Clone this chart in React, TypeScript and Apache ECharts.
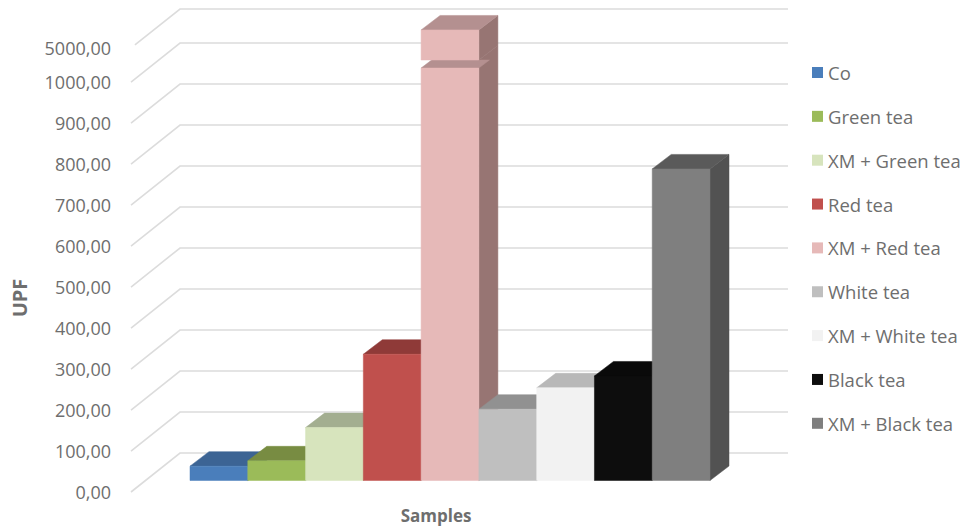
import React, { useEffect, useRef } from "react";
import * as echarts from "echarts";

// Sun protection factor per sample, drawn as pseudo-3D columns on a broken value axis.
const samples = ["Co", "Green tea", "XM + Green tea", "Red tea", "XM + Red tea", "White tea", "XM + White tea", "Black tea", "XM + Black tea"];
const upfLow = [0, 0, 0, 0, 0, 0, 0, 0, 0];
const upfHigh = [35, 48, 129, 308, 1290, 174, 226, 255, 760];
// The XM + Red tea column continues above the axis break as a second block.
const xmRedUpperBlock = [2234, 5016];
const axisTicks = [0, 100, 200, 300, 400, 500, 600, 700, 800, 900, 1000, 5000];

const frontColors = ["#4a7ebb", "#9bbb59", "#d7e4bd", "#c0504d", "#e6b9b8", "#bfbfbf", "#f2f2f2", "#0d0d0d", "#7f7f7f"];
const topColors = ["#3c6494", "#788c42", "#a3ae90", "#8f3a38", "#b49090", "#919191", "#b8b8b8", "#0a0a0a", "#5a5a5a"];
const sideColors = ["#375c88", "#6f823d", "#98a386", "#853533", "#977573", "#868686", "#a9a9a9", "#090909", "#525252"];

const TEXT_COLOR = "#6e6e6e";
const FONT = "'Open Sans', sans-serif";
const DEPTH_X = 19;
const DEPTH_Y = 14.5;
const BAR_LIFT = 11.5;
const WALL_DEPTH_Y = 39;
const SPLIT_SERIES = samples.indexOf("XM + Red tea");

const formatUpf = (v: number) => v.toFixed(2).replace(".", ",");

// Floor-to-wall guide lines: a slanted run from the axis to the back wall, then along the wall.
// The topmost line starts slightly further in than the others.
const renderWallLine = (params: any, api: any) => {
  const cs = params.coordSys;
  const value = api.value(0);
  const y = api.coord([0, value])[1];
  const inset = value === axisTicks[axisTicks.length - 1] ? 0.08 : 0;
  return {
    type: "polyline",
    silent: true,
    shape: {
      points: [
        [cs.x - 59 + 49 * inset, y - WALL_DEPTH_Y * inset],
        [cs.x - 10, y - WALL_DEPTH_Y],
        [cs.x + cs.width + 78, y - WALL_DEPTH_Y],
      ],
    },
    style: { fill: "none", stroke: "#dcdcdc", lineWidth: 1.6 },
  };
};

// One column block: front face, right side and top, from base to top value.
// Below the axis break, the side runs on up to the upper block and the top face is cut short by it.
const renderBlock = (seriesIndex: number) => (_params: any, api: any) => {
  const cat = api.value(0);
  const band = api.size([1, 0])[0];
  const xc = api.coord([cat, 0])[0];
  const x0 = xc - band / 2;
  const x1 = xc + band / 2;
  const yBase = api.coord([cat, api.value(1)])[1] - BAR_LIFT;
  const yTop = api.coord([cat, api.value(2)])[1] - BAR_LIFT;
  const isSplitBase = seriesIndex === SPLIT_SERIES && api.value(2) < xmRedUpperBlock[0];
  const ySideTop = isSplitBase ? api.coord([cat, xmRedUpperBlock[0]])[1] - BAR_LIFT : yTop;
  const topShare = isSplitBase ? (yTop - ySideTop) / DEPTH_Y : 1;
  const poly = (points: number[][], fill: string) => ({ type: "polygon", shape: { points }, style: { fill, stroke: fill, lineWidth: 0.5 } });
  return {
    type: "group",
    children: [
      poly([[x1, yBase], [x1 + DEPTH_X, yBase - DEPTH_Y], [x1 + DEPTH_X, ySideTop - DEPTH_Y], [x1, ySideTop]], sideColors[seriesIndex]),
      poly(
        [
          [x0, yTop],
          [x1, yTop],
          [x1 + DEPTH_X * topShare, yTop - DEPTH_Y * topShare],
          [x0 + DEPTH_X * topShare, yTop - DEPTH_Y * topShare],
        ],
        topColors[seriesIndex],
      ),
      poly([[x0, yBase], [x1, yBase], [x1, yTop], [x0, yTop]], frontColors[seriesIndex]),
    ],
  };
};

export default function App() {
  const ref = useRef<HTMLDivElement>(null);
  useEffect(() => {
    const chart = echarts.init(ref.current!, undefined, { renderer: "svg" });
    const blocks = samples.map((name, i) => ({
      name,
      type: "custom",
      renderItem: renderBlock(i),
      itemStyle: { color: frontColors[i] },
      encode: { x: 0, y: [1, 2] },
      data: [
        [i, upfLow[i], upfHigh[i]],
        ...(i === SPLIT_SERIES ? [[i, xmRedUpperBlock[0], xmRedUpperBlock[1]]] : []),
      ],
      z: 3,
    }));
    chart.setOption({
      animation: false,
      backgroundColor: "#ffffff",
      grid: { left: 190, right: 253, top: 48, bottom: 35, containLabel: false, outerBoundsMode: "none" },
      legend: {
        data: samples,
        orient: "vertical",
        left: 812,
        top: 63,
        padding: 0,
        itemWidth: 11,
        itemHeight: 11,
        itemGap: 24.85,
        icon: "rect",
        selectedMode: false,
        textStyle: { color: TEXT_COLOR, fontFamily: FONT, fontSize: 18.5 },
      },
      xAxis: {
        type: "category",
        data: samples,
        axisLine: { show: false },
        axisTick: { show: false },
        axisLabel: { show: false },
        name: "Samples",
        nameLocation: "middle",
        nameGap: 15,
        nameTextStyle: { color: TEXT_COLOR, fontFamily: FONT, fontSize: 17, fontWeight: "bold", padding: [0, 28, 0, 0] },
      },
      yAxis: {
        type: "value",
        min: 0,
        max: 5000,
        interval: 100,
        breaks: [{ start: 1000, end: 5000, gap: 83 }],
        breakArea: { show: false },
        axisLine: { show: false },
        axisTick: { show: false },
        splitLine: { show: false },
        axisLabel: {
          color: TEXT_COLOR,
          fontFamily: FONT,
          fontSize: 18,
          margin: 79,
          padding: [0, 0, 10, 0],
          formatter: (v: number) => formatUpf(v),
        },
        name: "UPF",
        nameLocation: "middle",
        nameGap: 161,
        nameRotate: 90,
        nameTextStyle: { color: TEXT_COLOR, fontFamily: FONT, fontSize: 20, fontWeight: "bold", padding: [0, 56, 0, 0] },
      },
      series: [
        {
          type: "custom",
          name: "wall",
          renderItem: renderWallLine,
          encode: { y: 0 },
          data: axisTicks.map((t) => [t]),
          z: 1,
          silent: true,
        },
        ...blocks,
      ],
    });
    return () => chart.dispose();
  }, []);
  return <div ref={ref} style={{ position: "fixed", left: 0, top: 0, width: 963, height: 527 }} />;
}
